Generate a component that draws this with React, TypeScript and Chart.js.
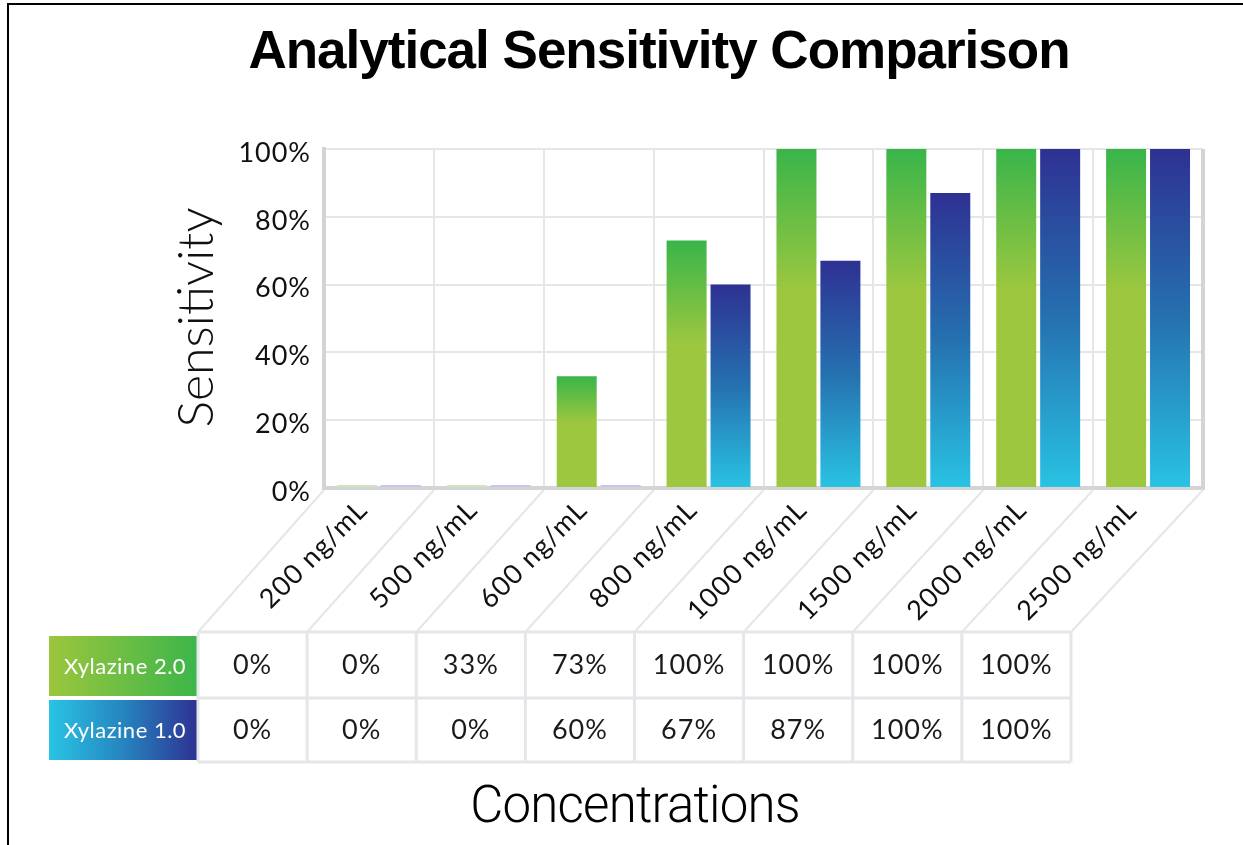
import React, { useEffect, useRef } from 'react';
import { Chart, registerables } from 'chart.js';

Chart.register(...registerables);

// ---------- data ----------
const categories = ['200 ng/mL', '500 ng/mL', '600 ng/mL', '800 ng/mL', '1000 ng/mL', '1500 ng/mL', '2000 ng/mL', '2500 ng/mL'];
const seriesNames = ['Xylazine 2.0', 'Xylazine 1.0'];
const xylazine20 = [0, 0, 33, 73, 100, 100, 100, 100];
const xylazine10 = [0, 0, 0, 60, 67, 87, 100, 100];
const yTicks = [0, 20, 40, 60, 80, 100];
const chartTitle = 'Analytical Sensitivity Comparison';
const yAxisTitle = 'Sensitivity';
const xAxisTitle = 'Concentrations';

// ---------- layout constants ----------
const W = 1243;
const H = 845;
const PLOT_LEFT = 324;
const PLOT_TOP = 149;
const PLOT_RIGHT = 1203;
const PLOT_BOTTOM = 488;
const TABLE_LEFT = 198;
const TABLE_RIGHT = 1071;
const TABLE_TOP = 632;
const TABLE_MID = 698;
const TABLE_BOTTOM = 762;
const LABEL_LEFT = 49;

const GREEN_TOP = '#39b54a';
const GREEN_MAIN = '#9dc73f';
const BLUE_TOP = '#2e3192';
const BLUE_MID = '#2571b0';
const BLUE_BOTTOM = '#29c3e3';

function barFill(ctx: any, kind: 'green' | 'blue') {
  const chart = ctx.chart;
  const v = ctx.raw;
  if (!v) return kind === 'green' ? '#cde6c1' : '#c6c8ea';
  const ys = chart.scales && chart.scales.y;
  if (!chart.chartArea || !ys) return kind === 'green' ? GREEN_MAIN : BLUE_MID;
  const top = ys.getPixelForValue(v);
  const bottom = ys.getPixelForValue(0);
  const g = chart.ctx.createLinearGradient(0, top, 0, bottom);
  if (kind === 'green') {
    g.addColorStop(0, GREEN_TOP);
    g.addColorStop(0.42, GREEN_MAIN);
    g.addColorStop(1, GREEN_MAIN);
  } else {
    g.addColorStop(0, BLUE_TOP);
    g.addColorStop(0.5, BLUE_MID);
    g.addColorStop(1, BLUE_BOTTOM);
  }
  return g;
}

const decorPlugin = {
  id: 'decor',
  beforeDraw(chart: any) {
    const c = chart.ctx;
    c.save();
    c.fillStyle = '#ffffff';
    c.fillRect(0, 0, chart.width, chart.height);
    c.restore();
    c.letterSpacing = '1px';
  },
  afterDraw(chart: any) {
    const c = chart.ctx;
    const area = chart.chartArea;
    const n = categories.length;
    const colW = (TABLE_RIGHT - TABLE_LEFT) / n;
    c.save();

    // outer frame (top + left)
    c.fillStyle = '#000';
    c.fillRect(7, 3, chart.width - 7, 2);
    c.fillRect(7, 3, 2, chart.height - 3);

    // title
    c.letterSpacing = '-1px';
    c.font = "bold 53px 'Liberation Sans', Arial, sans-serif";
    c.textAlign = 'center';
    c.textBaseline = 'alphabetic';
    c.fillStyle = '#000';
    c.fillText(chartTitle, 659, 68);

    // y-axis title
    c.save();
    c.letterSpacing = '0px';
    c.translate(197, (area.top + area.bottom) / 2 - 1);
    c.rotate(-Math.PI / 2);
    c.font = "300 50px Lato, sans-serif";
    c.fillStyle = '#111';
    c.textAlign = 'center';
    c.textBaseline = 'middle';
    c.fillText(yAxisTitle, 0, 0);
    c.restore();

    // right wall
    c.strokeStyle = '#d4d4d4';
    c.lineWidth = 4;
    c.beginPath();
    c.moveTo(area.right, area.top);
    c.lineTo(area.right, area.bottom + 2);
    c.stroke();

    // diagonal connectors
    c.strokeStyle = '#e6e6e9';
    c.lineWidth = 2;
    for (let i = 0; i <= n; i++) {
      const xt = area.left + ((area.right - area.left) * i) / n;
      const xb = TABLE_LEFT + colW * i;
      c.beginPath();
      c.moveTo(xt, area.bottom + 2);
      c.lineTo(xb, TABLE_TOP);
      c.stroke();
    }

    // series label boxes
    const boxes = [
      { y0: 636, y1: 696, stops: [[0, '#9cc63d'], [1, '#3cb54a']] },
      { y0: 700, y1: 760, stops: [[0, '#29c4e4'], [0.5, '#2684bf'], [1, '#2e3192']] },
    ];
    boxes.forEach((b, r) => {
      const g = c.createLinearGradient(LABEL_LEFT, 0, TABLE_LEFT, 0);
      b.stops.forEach((s: any) => g.addColorStop(s[0], s[1]));
      c.fillStyle = g;
      c.fillRect(LABEL_LEFT, b.y0, TABLE_LEFT - LABEL_LEFT, b.y1 - b.y0);
      c.fillStyle = '#ffffff';
      c.letterSpacing = '0.5px';
      c.font = "22px Lato, sans-serif";
      c.textAlign = 'center';
      c.textBaseline = 'middle';
      c.fillText(seriesNames[r], 125, (b.y0 + b.y1) / 2 + 1);
    });

    // table grid
    c.strokeStyle = '#e5e6ea';
    c.lineWidth = 3;
    [TABLE_TOP, TABLE_MID, TABLE_BOTTOM].forEach((y) => {
      c.beginPath();
      c.moveTo(TABLE_LEFT, y);
      c.lineTo(TABLE_RIGHT, y);
      c.stroke();
    });
    for (let i = 0; i <= n; i++) {
      const x = TABLE_LEFT + colW * i;
      c.beginPath();
      c.moveTo(x, TABLE_TOP);
      c.lineTo(x, TABLE_BOTTOM);
      c.stroke();
    }

    // table values
    c.fillStyle = '#1a1a1a';
    c.letterSpacing = '1px';
    c.font = "27px Lato, sans-serif";
    c.textAlign = 'center';
    c.textBaseline = 'middle';
    const rows = [xylazine20, xylazine10];
    rows.forEach((vals, r) => {
      const yc = r === 0 ? (TABLE_TOP + TABLE_MID) / 2 : (TABLE_MID + TABLE_BOTTOM) / 2;
      vals.forEach((v, i) => {
        c.fillText(v + '%', TABLE_LEFT + colW * (i + 0.5), yc);
      });
    });

    // x-axis title
    c.letterSpacing = '-0.8px';
    c.font = "300 51px Roboto, sans-serif";
    c.fillStyle = '#000';
    c.textAlign = 'center';
    c.textBaseline = 'alphabetic';
    c.fillText(xAxisTitle, 635, 822);

    c.restore();
  },
};

export default function App() {
  const ref = useRef<HTMLCanvasElement>(null);
  useEffect(() => {
    if (!ref.current) return;
    Chart.defaults.font.family = 'Lato, sans-serif';
    const chart = new Chart(ref.current, {
      type: 'bar',
      data: {
        labels: categories,
        datasets: [
          {
            label: seriesNames[0],
            data: xylazine20,
            backgroundColor: (ctx: any) => barFill(ctx, 'green'),
            categoryPercentage: 0.8,
            barPercentage: 0.91,
            minBarLength: 3,
          },
          {
            label: seriesNames[1],
            data: xylazine10,
            backgroundColor: (ctx: any) => barFill(ctx, 'blue'),
            categoryPercentage: 0.8,
            barPercentage: 0.91,
            minBarLength: 3,
          },
        ],
      },
      options: {
        responsive: false,
        animation: false,
        events: [],
        layout: { padding: { left: 170, top: PLOT_TOP, right: W - PLOT_RIGHT, bottom: 0 } },
        plugins: {
          legend: { display: false },
          title: { display: false },
          tooltip: { enabled: false },
        },
        scales: {
          x: {
            type: 'category',
            grid: { color: '#e6e6e9', lineWidth: 2, drawTicks: false, offset: true },
            border: { display: true, color: '#d4d4d4', width: 4 },
            ticks: {
              autoSkip: false,
              minRotation: 45,
              maxRotation: 45,
              padding: 6,
              labelOffset: -16,
              color: '#111',
              font: { size: 27 },
            },
            afterFit: (scale: any) => {
              scale.height = H - PLOT_BOTTOM;
            },
          },
          y: {
            min: 0,
            max: 100,
            grid: { color: '#e6e6e9', lineWidth: 2, drawTicks: false },
            border: { display: true, color: '#d4d4d4', width: 4 },
            afterBuildTicks: (axis: any) => {
              axis.ticks = yTicks.map((v) => ({ value: v }));
            },
            ticks: {
              padding: 13,
              labelOffset: 4,
              color: '#111',
              font: { size: 27 },
              callback: (v: any) => v + '%',
            },
            title: { display: false },
            afterFit: (scale: any) => {
              scale.width = PLOT_LEFT - 170;
            },
          },
        },
      },
      plugins: [decorPlugin],
    } as any);
    return () => chart.destroy();
  }, []);
  return (
    <div style={{ position: 'absolute', left: 0, top: 0, width: W, height: H, background: '#fff' }}>
      <canvas ref={ref} width={W} height={H} style={{ display: 'block' }} />
    </div>
  );
}
